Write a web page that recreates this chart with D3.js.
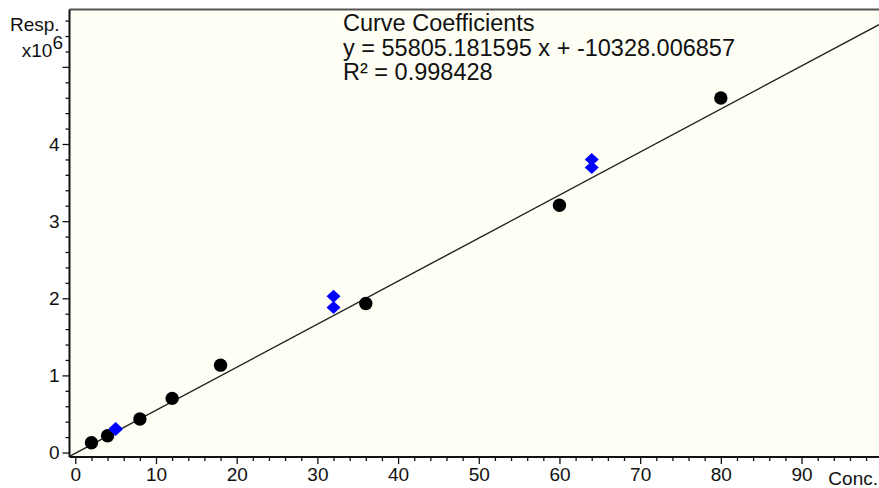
<!DOCTYPE html>
<html>
<head>
<meta charset="utf-8">
<script src="https://cdn.jsdelivr.net/npm/d3@7"></script>
<style>
  html, body { margin: 0; padding: 0; background: #ffffff; }
  svg { display: block; }
  text { font-family: "Liberation Sans", Arial, sans-serif; fill: #111; }
</style>
</head>
<body>
<svg id="chart" width="879" height="488"></svg>
<script>
// Calibration standards (concentration, response in units of 10^6)
const calConc  = [2, 4, 8, 12, 18, 36, 60, 80];
const calResp  = [0.127, 0.218, 0.434, 0.702, 1.133, 1.933, 3.206, 4.596];

// Check samples (blue diamonds)
const chkConc  = [5, 5, 32, 32, 64, 64];
const chkResp  = [0.297, 0.310, 1.881, 2.027, 3.694, 3.800];

// Linear fit coefficients
const slope     = 55805.181595;
const intercept = -10328.006857;
const rSquared  = 0.998428;

// Axis ticks
const xMajorTicks = [0, 10, 20, 30, 40, 50, 60, 70, 80, 90];
const yMajorTicks = [0, 1, 2, 3, 4, 5];
const yTickLabels = ["0", "1", "2", "3", "4", ""];

const axisFont = 19;

const svg = d3.select("#chart");

const plot = { left: 69.5, right: 879, top: 9.5, bottom: 457 };

const x = d3.scaleLinear().domain([-0.72, 99.6]).range([plot.left, plot.right]);
const y = d3.scaleLinear().domain([-0.058, 5.744]).range([plot.bottom, plot.top]);

// Plot background
svg.append("rect")
  .attr("x", plot.left).attr("y", plot.top)
  .attr("width", plot.right - plot.left).attr("height", plot.bottom - plot.top)
  .attr("fill", "#fefef5");

svg.append("clipPath").attr("id", "clip")
  .append("rect")
  .attr("x", plot.left).attr("y", plot.top)
  .attr("width", plot.right - plot.left).attr("height", plot.bottom - plot.top);

// Top frame line
svg.append("line")
  .attr("x1", plot.left).attr("x2", plot.right)
  .attr("y1", plot.top).attr("y2", plot.top)
  .attr("stroke", "#555").attr("stroke-width", 2);

// Fitted calibration line
const xs = x.domain();
const fit = xs.map(c => [c, (slope * c + intercept) / 1e6]);
svg.append("path")
  .attr("clip-path", "url(#clip)")
  .attr("d", d3.line().x(d => x(d[0])).y(d => y(d[1]))(fit))
  .attr("fill", "none").attr("stroke", "#222").attr("stroke-width", 1.4);

// Calibration points
svg.append("g").selectAll("circle")
  .data(d3.zip(calConc, calResp))
  .join("circle")
  .attr("cx", d => x(d[0])).attr("cy", d => y(d[1]))
  .attr("r", 6.7).attr("fill", "#000");

// Check sample diamonds
const diamond = "M0,-6.5L7,0L0,6.5L-7,0Z";
svg.append("g").selectAll("path")
  .data(d3.zip(chkConc, chkResp))
  .join("path")
  .attr("transform", d => `translate(${x(d[0])},${y(d[1])})`)
  .attr("d", diamond).attr("fill", "#0000ff");

// X axis: minor ticks every 2, major every 10
const xMinor = d3.range(0, 100, 2).filter(v => v % 10 !== 0);
const gxMinor = svg.append("g").attr("transform", `translate(0,${plot.bottom})`)
  .call(d3.axisBottom(x).tickValues(xMinor).tickSize(4).tickFormat(""));
const gx = svg.append("g").attr("transform", `translate(0,${plot.bottom})`)
  .call(d3.axisBottom(x).tickValues(xMajorTicks).tickSize(7).tickPadding(4).tickFormat(d3.format("d")));

// Y axis: minor ticks every 0.2, major every 1
const yMinor = d3.range(0, 5.8, 0.2).map(v => +v.toFixed(1)).filter(v => Math.abs(v - Math.round(v)) > 1e-6);
const gyMinor = svg.append("g").attr("transform", `translate(${plot.left},0)`)
  .call(d3.axisLeft(y).tickValues(yMinor).tickSize(4).tickFormat(""));
const gy = svg.append("g").attr("transform", `translate(${plot.left},0)`)
  .call(d3.axisLeft(y).tickValues(yMajorTicks).tickSize(7).tickPadding(3).tickFormat((d, i) => yTickLabels[i]));

[gxMinor, gx, gyMinor, gy].forEach(g => {
  g.select(".domain").attr("stroke", "#111").attr("stroke-width", 2);
  g.selectAll(".tick line").attr("stroke", "#111").attr("stroke-width", 1.3);
  g.selectAll(".tick text").attr("font-size", axisFont).attr("fill", "#111")
    .attr("font-family", "Liberation Sans, Arial, sans-serif");
});
gxMinor.select(".domain").remove();
gyMinor.select(".domain").remove();
gx.select(".domain").attr("d", `M${plot.left},0H${plot.right}`);
gy.select(".domain").attr("d", `M0,${plot.top}V${plot.bottom}`);

// Axis titles
svg.append("text").attr("x", 878).attr("y", 485).attr("font-size", axisFont)
  .attr("text-anchor", "end").text("Conc.");
svg.append("text").attr("x", 10).attr("y", 31).attr("font-size", axisFont).text("Resp.");
const mult = svg.append("text").attr("x", 63).attr("y", 57).attr("font-size", axisFont).attr("text-anchor", "end");
mult.append("tspan").text("x10");
mult.append("tspan").attr("dy", -8).text("6");

// Curve coefficient annotation
const coef = [
  "Curve Coefficients",
  `y = ${slope.toFixed(6)} x + ${intercept.toFixed(6)}`,
  `R² = ${rSquared.toFixed(6)}`
];
svg.append("g").selectAll("text")
  .data(coef)
  .join("text")
  .attr("x", 343).attr("y", (d, i) => 31 + i * 24.5)
  .attr("font-size", 23.5)
  .text(d => d);
</script>
</body>
</html>
